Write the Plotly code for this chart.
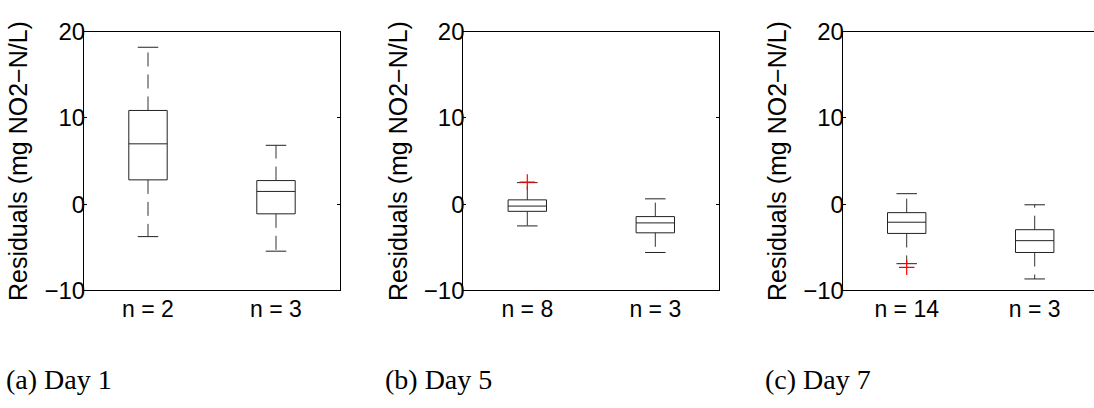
import plotly.graph_objects as go

# ---- data ----
panels = ["(a) Day 1", "(b) Day 5", "(c) Day 7"]
group_labels = [["n = 2", "n = 3"], ["n = 8", "n = 3"], ["n = 14", "n = 3"]]

upper_whisker = [[18.2, 6.83], [2.5, 0.62], [1.22, -0.07]]
q3 = [[10.87, 2.74], [0.5, -1.44], [-0.98, -2.96]]
median = [[7.0, 1.48], [-0.22, -2.17], [-2.09, -4.23]]
q1 = [[2.82, -1.12], [-0.83, -3.32], [-3.39, -5.6]]
lower_whisker = [[-3.76, -5.45], [-2.52, -5.6], [-6.9, -8.67]]
outliers = [[[], []], [[2.57], []], [[-7.33], []]]

y_ticks = [-10, 0, 10, 20]
y_title = "Residuals (mg NO2\u2212N/L)"

# ---- style / layout ----
W, H = 1094, 408
BOX_W = 0.30
CAP_W = 0.16
x_domains = [[84 / W, 340 / W], [463.3 / W, 719.3 / W], [842.7 / W, 1.0]]
x_ranges = [[0.5, 2.5], [0.5, 2.5], [0.5, 0.5 + (W - 842.7) / 128.0]]
y_domain = [(H - 296) / H, (H - 19) / H]
caption_x = [4 / W, 383 / W, 763 / W]
LINE = "#222222"

fig = go.Figure()

for p in range(3):
    xa = "x" if p == 0 else f"x{p + 1}"
    ya = "y" if p == 0 else f"y{p + 1}"
    bx, by = [], []
    mx, my = [], []
    wx, wy = [], []
    cx, cy = [], []
    ox, oy = [], []
    for g in range(2):
        c = g + 1
        l, r = c - BOX_W / 2, c + BOX_W / 2
        bx += [l, r, r, l, l, None]
        by += [q1[p][g], q1[p][g], q3[p][g], q3[p][g], q1[p][g], None]
        mx += [l, r, None]
        my += [median[p][g], median[p][g], None]
        wx += [c, c, None, c, c, None]
        wy += [q3[p][g], upper_whisker[p][g], None, q1[p][g], lower_whisker[p][g], None]
        cl, cr = c - CAP_W / 2, c + CAP_W / 2
        cx += [cl, cr, None, cl, cr, None]
        cy += [upper_whisker[p][g], upper_whisker[p][g], None,
               lower_whisker[p][g], lower_whisker[p][g], None]
        for v in outliers[p][g]:
            ox.append(c)
            oy.append(v)
    common = dict(xaxis=xa, yaxis=ya, showlegend=False, hoverinfo="skip")
    fig.add_trace(go.Scatter(x=wx, y=wy, mode="lines",
                             line=dict(color="#333333", width=1, dash="14px,8px"), **common))
    fig.add_trace(go.Scatter(x=cx, y=cy, mode="lines",
                             line=dict(color=LINE, width=1), **common))
    fig.add_trace(go.Scatter(x=bx, y=by, mode="lines",
                             line=dict(color=LINE, width=1), **common))
    fig.add_trace(go.Scatter(x=mx, y=my, mode="lines",
                             line=dict(color=LINE, width=1), **common))
    if ox:
        fig.add_trace(go.Scatter(x=ox, y=oy, mode="markers",
                                 marker=dict(symbol="cross-thin", size=11,
                                             line=dict(color="red", width=1.2)),
                                 **common))

    xkey = "xaxis" if p == 0 else f"xaxis{p + 1}"
    ykey = "yaxis" if p == 0 else f"yaxis{p + 1}"
    fig.layout[xkey] = dict(
        domain=x_domains[p], range=x_ranges[p], anchor=ya,
        tickmode="array", tickvals=[1, 2], ticktext=group_labels[p],
        ticks="", showgrid=False, zeroline=False,
        ticklabelstandoff=-2,
        showline=True, linecolor="black", linewidth=1, mirror=True,
        tickfont=dict(family="Liberation Sans, Arial", size=23, color="black"),
    )
    fig.layout[ykey] = dict(
        domain=y_domain, range=[-10, 20], anchor=xa,
        tickmode="array", tickvals=y_ticks,
        ticks="inside", ticklen=3, tickcolor="black",
        ticklabelstandoff=-7,
        showgrid=False, zeroline=False,
        showline=True, linecolor="black", linewidth=1,
        mirror="ticks" if p < 2 else False,
        tickfont=dict(family="Liberation Sans, Arial", size=24, color="black"),
        title=dict(text=y_title, standoff=9,
                   font=dict(family="Liberation Sans, Arial", size=25, color="black")),
    )
    fig.add_annotation(text=panels[p], xref="paper", yref="paper",
                       x=caption_x[p], y=(H - 391) / H, xanchor="left", yanchor="middle",
                       showarrow=False,
                       font=dict(family="Liberation Serif, DejaVu Serif", size=28, color="black"))

fig.update_layout(
    width=W, height=H,
    margin=dict(l=0, r=0, t=0, b=0),
    paper_bgcolor="white", plot_bgcolor="white",
)

fig.write_html("out.html")
